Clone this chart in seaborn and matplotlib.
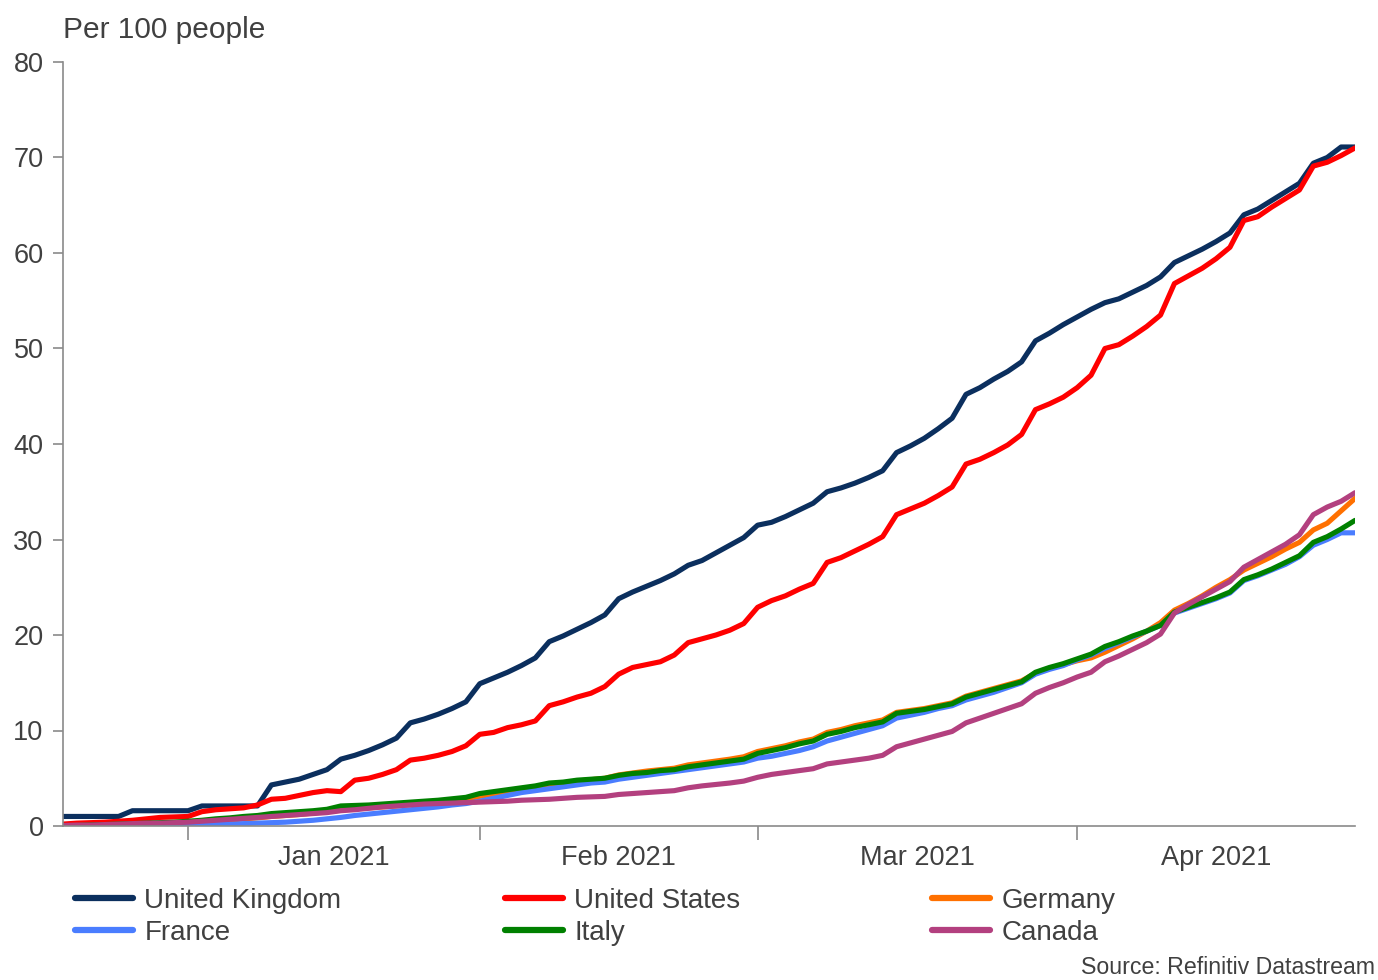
import numpy as np
import pandas as pd
import matplotlib
matplotlib.use("Agg")
import matplotlib.pyplot as plt
import seaborn as sns

# Cumulative COVID-19 vaccine doses administered, per 100 people (business days)
dates = pd.bdate_range("2020-12-21", "2021-04-29")

united_kingdom = [
    1.0, 1.0, 1.0, 1.0, 1.0, 1.6, 1.6, 1.6, 1.6, 1.6,
    2.1, 2.1, 2.1, 2.1, 2.1, 4.3, 4.6, 4.9, 5.4, 5.9,
    7.0, 7.4, 7.9, 8.5, 9.2, 10.8, 11.2, 11.7, 12.3, 13.0,
    14.9, 15.5, 16.1, 16.8, 17.6, 19.3, 19.9, 20.6, 21.3, 22.1,
    23.8, 24.5, 25.1, 25.7, 26.4, 27.3, 27.8, 28.6, 29.4, 30.2,
    31.5, 31.8, 32.4, 33.1, 33.8, 35.0, 35.4, 35.9, 36.5, 37.2,
    39.1, 39.8, 40.6, 41.6, 42.7, 45.2, 45.9, 46.8, 47.6, 48.6,
    50.8, 51.6, 52.5, 53.3, 54.1, 54.8, 55.2, 55.9, 56.6, 57.5,
    59.0, 59.7, 60.4, 61.2, 62.1, 64.0, 64.6, 65.5, 66.4, 67.3,
    69.4, 70.0, 71.1, 71.1,
]
united_states = [
    0.2, 0.3, 0.35, 0.4, 0.5, 0.6, 0.75, 0.9, 0.95, 1.0,
    1.5, 1.7, 1.8, 1.9, 2.2, 2.8, 2.9, 3.2, 3.5, 3.7,
    3.6, 4.8, 5.0, 5.4, 5.9, 6.9, 7.1, 7.4, 7.8, 8.4,
    9.6, 9.8, 10.3, 10.6, 11.0, 12.6, 13.0, 13.5, 13.9, 14.6,
    15.9, 16.6, 16.9, 17.2, 17.9, 19.2, 19.6, 20.0, 20.5, 21.2,
    22.9, 23.6, 24.1, 24.8, 25.4, 27.6, 28.1, 28.8, 29.5, 30.3,
    32.6, 33.2, 33.8, 34.6, 35.5, 37.9, 38.4, 39.1, 39.9, 41.0,
    43.6, 44.2, 44.9, 45.9, 47.2, 50.0, 50.4, 51.3, 52.3, 53.5,
    56.8, 57.6, 58.4, 59.4, 60.6, 63.4, 63.8, 64.8, 65.7, 66.6,
    69.1, 69.5, 70.2, 71.0,
]
germany = [
    0.0, 0.0, 0.0, 0.0, 0.0, 0.05, 0.1, 0.15, 0.2, 0.25,
    0.35, 0.45, 0.6, 0.75, 0.85, 1.0, 1.1, 1.2, 1.35, 1.5,
    1.65, 1.8, 1.9, 2.0, 2.1, 2.25, 2.35, 2.5, 2.65, 2.8,
    3.1, 3.35, 3.6, 3.85, 4.05, 4.3, 4.5, 4.7, 4.85, 5.0,
    5.35, 5.55, 5.75, 5.9, 6.05, 6.4, 6.6, 6.8, 7.0, 7.25,
    7.8, 8.1, 8.4, 8.8, 9.1, 9.8, 10.1, 10.5, 10.8, 11.1,
    11.9, 12.1, 12.3, 12.6, 12.9, 13.6, 14.0, 14.4, 14.8, 15.2,
    16.0, 16.5, 16.9, 17.3, 17.6, 18.2, 18.9, 19.6, 20.4, 21.3,
    22.6, 23.3, 24.1, 25.0, 25.8, 26.8, 27.5, 28.2, 29.0, 29.7,
    31.0, 31.7, 33.0, 34.3,
]
france = [
    0.0, 0.0, 0.0, 0.0, 0.0, 0.0, 0.02, 0.05, 0.05, 0.1,
    0.1, 0.15, 0.2, 0.25, 0.3, 0.35, 0.4, 0.5, 0.6, 0.75,
    0.9, 1.1, 1.25, 1.4, 1.55, 1.7, 1.85, 2.0, 2.2, 2.35,
    2.6, 2.9, 3.2, 3.5, 3.7, 3.9, 4.1, 4.3, 4.5, 4.6,
    4.9, 5.1, 5.3, 5.5, 5.7, 5.9, 6.1, 6.3, 6.5, 6.7,
    7.1, 7.3, 7.6, 7.9, 8.3, 8.9, 9.3, 9.7, 10.1, 10.5,
    11.3, 11.6, 11.9, 12.3, 12.6, 13.2, 13.6, 14.0, 14.5, 15.0,
    15.9, 16.4, 16.8, 17.4, 17.9, 18.6, 19.2, 19.8, 20.4, 21.0,
    22.3, 22.8, 23.3, 23.8, 24.4, 25.7, 26.2, 26.8, 27.4, 28.2,
    29.4, 30.0, 30.7, 30.7,
]
italy = [
    0.0, 0.05, 0.1, 0.15, 0.2, 0.25, 0.3, 0.35, 0.4, 0.5,
    0.6, 0.75, 0.85, 1.0, 1.1, 1.3, 1.4, 1.5, 1.6, 1.75,
    2.1, 2.15, 2.2, 2.3, 2.4, 2.5, 2.6, 2.7, 2.85, 3.0,
    3.4, 3.6, 3.8, 4.0, 4.2, 4.5, 4.6, 4.8, 4.9, 5.0,
    5.3, 5.5, 5.6, 5.8, 5.9, 6.2, 6.4, 6.6, 6.8, 7.0,
    7.6, 7.9, 8.2, 8.6, 8.9, 9.6, 9.9, 10.3, 10.6, 10.9,
    11.8, 12.0, 12.2, 12.5, 12.8, 13.5, 13.9, 14.3, 14.7, 15.1,
    16.1, 16.6, 17.0, 17.5, 18.0, 18.8, 19.3, 19.9, 20.4, 21.0,
    22.4, 22.9, 23.4, 23.9, 24.5, 25.8, 26.3, 26.9, 27.6, 28.3,
    29.7, 30.3, 31.1, 32.0,
]
canada = [
    0.05, 0.1, 0.1, 0.15, 0.2, 0.25, 0.3, 0.3, 0.35, 0.4,
    0.5, 0.6, 0.7, 0.8, 0.9, 1.0, 1.1, 1.2, 1.3, 1.4,
    1.6, 1.7, 1.85, 2.0, 2.1, 2.2, 2.3, 2.35, 2.4, 2.45,
    2.5, 2.55, 2.6, 2.7, 2.75, 2.8, 2.9, 3.0, 3.05, 3.1,
    3.3, 3.4, 3.5, 3.6, 3.7, 4.0, 4.2, 4.35, 4.5, 4.7,
    5.1, 5.4, 5.6, 5.8, 6.0, 6.5, 6.7, 6.9, 7.1, 7.4,
    8.3, 8.7, 9.1, 9.5, 9.9, 10.8, 11.3, 11.8, 12.3, 12.8,
    13.9, 14.5, 15.0, 15.6, 16.1, 17.2, 17.8, 18.5, 19.2, 20.1,
    22.3, 23.2, 24.0, 24.8, 25.6, 27.1, 27.9, 28.7, 29.5, 30.5,
    32.6, 33.4, 34.0, 34.9,
]

countries = ["United Kingdom", "United States", "Germany", "France", "Italy", "Canada"]
colors = ["#0b2f5e", "#ff0000", "#ff7000", "#4a7dff", "#008000", "#b3407f"]
series = [united_kingdom, united_states, germany, france, italy, canada]

y_ticks = [0, 10, 20, 30, 40, 50, 60, 70, 80]

# Long-format table; x is the business-day position
frames = []
for name, vals in zip(countries, series):
    frames.append(pd.DataFrame({"pos": np.arange(len(dates)), "date": dates,
                                "value": vals, "country": name}))
df = pd.concat(frames, ignore_index=True)

sns.set_style("white")
text_color = "#404040"
axis_color = "#8a8a8a"
plt.rcParams["font.family"] = ["Liberation Sans", "DejaVu Sans"]
plt.rcParams["text.color"] = text_color

fig = plt.figure(figsize=(13.78, 9.8), dpi=100)
ax = fig.add_axes([63 / 1378, 1 - 826 / 980, (1355 - 63) / 1378, (826 - 62) / 980])

sns.lineplot(data=df, x="pos", y="value", hue="country", hue_order=countries,
             palette=dict(zip(countries, colors)), linewidth=3.7, legend=False,
             ax=ax)

n = len(dates)
ax.set_xlim(0, n - 1)
ax.set_ylim(0, 80)
ax.set_xlabel("")
ax.set_ylabel("")

# Month boundaries as major ticks, month names centred in between
months = pd.Series(dates.to_period("M"))
starts = [i for i in range(1, n) if months[i] != months[i - 1]]
bounds = starts + [n - 1]
mids = [(a + b) / 2 for a, b in zip(bounds[:-1], bounds[1:])]
ax.set_xticks(starts)
ax.set_xticklabels([])
ax.set_xticks(mids, minor=True)
ax.set_xticklabels([dates[s].strftime("%b %Y") for s in starts], minor=True)
ax.tick_params(axis="x", which="major", direction="out", length=10, width=1.2,
               color=axis_color, bottom=True)
ax.tick_params(axis="x", which="minor", length=0, pad=14, labelsize=19.5,
               labelcolor=text_color)

ax.set_yticks(y_ticks)
ax.tick_params(axis="y", direction="out", length=7, width=1.2, color=axis_color,
               pad=7, labelsize=19.5, labelcolor=text_color, left=True)

for side in ["top", "right"]:
    ax.spines[side].set_visible(False)
for side in ["left", "bottom"]:
    ax.spines[side].set_color(axis_color)
    ax.spines[side].set_linewidth(1.2)

fig.text(63 / 1378, 1 - 30 / 980, "Per 100 people", fontsize=21.5,
         color=text_color, va="center", ha="left")
fig.text(1375 / 1378, 1 - 967 / 980, "Source: Refinitiv Datastream", fontsize=16.7,
         color=text_color, va="center", ha="right")

# Legend in three columns of two entries
lines = dict(zip(countries, ax.get_lines()))
columns = [("United Kingdom", "France"), ("United States", "Italy"), ("Germany", "Canada")]
col_x = [75, 505, 932]
for cx, pair in zip(col_x, columns):
    leg = fig.legend([lines[c] for c in pair], list(pair), loc="upper left",
                     bbox_to_anchor=(cx / 1378, 1 - 888 / 980), frameon=False,
                     fontsize=20, handlelength=2.1, handletextpad=0.4,
                     labelspacing=0.2, borderaxespad=0, borderpad=0)
    for t in leg.get_texts():
        t.set_color(text_color)
    for h in leg.get_lines():
        h.set_linewidth(4.5)

fig.savefig("out.png", dpi=100)
